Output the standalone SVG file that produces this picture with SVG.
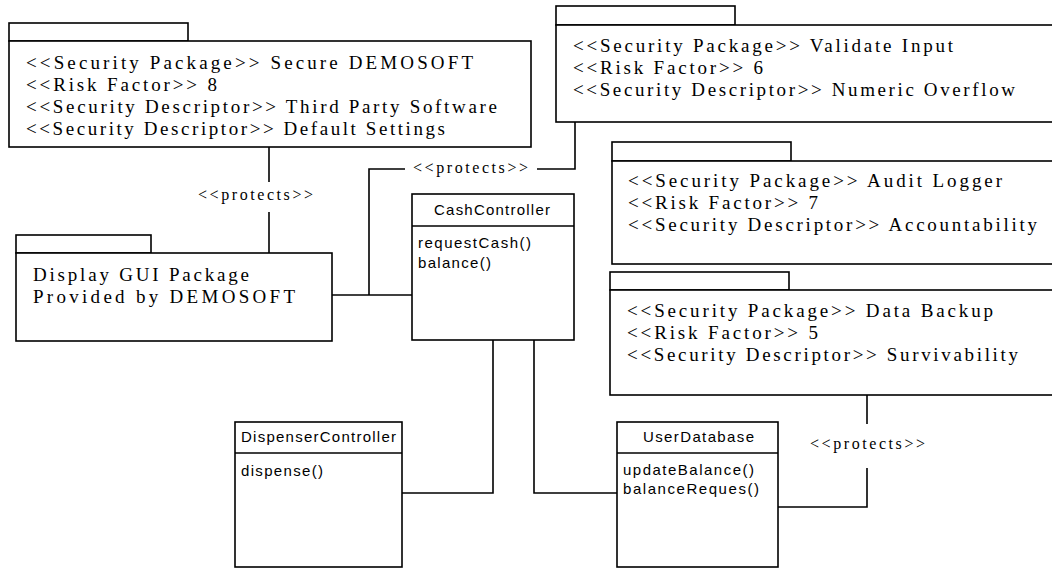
<svg xmlns="http://www.w3.org/2000/svg" width="1052" height="568" viewBox="0 0 1052 568">
<style>
  .box { fill: #fff; stroke: #000; stroke-width: 1.6; }
  .ln { fill: none; stroke: #000; stroke-width: 1.6; }
  .pk { font-family: "Liberation Serif", "Times New Roman", serif; font-size: 19px; fill: #000; }
  .st { font-family: "Liberation Serif", "Times New Roman", serif; font-size: 16px; fill: #000; }
  .cl { font-family: "Liberation Sans", Arial, sans-serif; font-size: 15px; fill: #000; }
</style>
<rect width="1052" height="568" fill="#fff"/>

<g id="connectors">
  <polyline class="ln" points="269,147 269,182"/>
  <polyline class="ln" points="269,212 269,253"/>
  <text class="st" x="198" y="200" textLength="115" lengthAdjust="spacing">&lt;&lt;protects&gt;&gt;</text>
  <polyline class="ln" points="332,295 412,295"/>
  <polyline class="ln" points="369,295 369,169 405,169"/>
  <polyline class="ln" points="537,169 575,169 575,122"/>
  <text class="st" x="413" y="173" textLength="115" lengthAdjust="spacing">&lt;&lt;protects&gt;&gt;</text>
  <polyline class="ln" points="493,340 493,493 402,493"/>
  <polyline class="ln" points="534,340 534,493 617,493"/>
  <polyline class="ln" points="867,395 867,424"/>
  <polyline class="ln" points="867,468 867,507 778,507"/>
  <text class="st" x="810" y="449" textLength="115" lengthAdjust="spacing">&lt;&lt;protects&gt;&gt;</text>
</g>

<g id="pkg-secure-demosoft">
  <rect class="box" x="9" y="23" width="179" height="18"/>
  <rect class="box" x="9" y="41" width="522" height="106"/>
  <text class="pk" x="26" y="69" textLength="447" lengthAdjust="spacing">&lt;&lt;Security Package&gt;&gt; Secure DEMOSOFT</text>
  <text class="pk" x="26" y="91" textLength="191" lengthAdjust="spacing">&lt;&lt;Risk Factor&gt;&gt; 8</text>
  <text class="pk" x="26" y="113" textLength="471" lengthAdjust="spacing">&lt;&lt;Security Descriptor&gt;&gt; Third Party Software</text>
  <text class="pk" x="26" y="135" textLength="419" lengthAdjust="spacing">&lt;&lt;Security Descriptor&gt;&gt; Default Settings</text>
</g>

<g id="pkg-validate-input">
  <rect class="box" x="556" y="6" width="179" height="19"/>
  <rect class="box" x="556" y="25" width="510" height="97"/>
  <text class="pk" x="573" y="52" textLength="380" lengthAdjust="spacing">&lt;&lt;Security Package&gt;&gt; Validate Input</text>
  <text class="pk" x="573" y="74" textLength="190" lengthAdjust="spacing">&lt;&lt;Risk Factor&gt;&gt; 6</text>
  <text class="pk" x="573" y="96" textLength="442" lengthAdjust="spacing">&lt;&lt;Security Descriptor&gt;&gt; Numeric Overflow</text>
</g>

<g id="pkg-audit-logger">
  <rect class="box" x="612" y="142" width="179" height="19"/>
  <rect class="box" x="612" y="161" width="454" height="103"/>
  <text class="pk" x="628" y="187" textLength="374" lengthAdjust="spacing">&lt;&lt;Security Package&gt;&gt; Audit Logger</text>
  <text class="pk" x="628" y="209" textLength="190" lengthAdjust="spacing">&lt;&lt;Risk Factor&gt;&gt; 7</text>
  <text class="pk" x="628" y="231" textLength="409" lengthAdjust="spacing">&lt;&lt;Security Descriptor&gt;&gt; Accountability</text>
</g>

<g id="pkg-data-backup">
  <rect class="box" x="610" y="272" width="179" height="18"/>
  <rect class="box" x="610" y="290" width="456" height="105"/>
  <text class="pk" x="627" y="317" textLength="366" lengthAdjust="spacing">&lt;&lt;Security Package&gt;&gt; Data Backup</text>
  <text class="pk" x="627" y="339" textLength="191" lengthAdjust="spacing">&lt;&lt;Risk Factor&gt;&gt; 5</text>
  <text class="pk" x="627" y="361" textLength="391" lengthAdjust="spacing">&lt;&lt;Security Descriptor&gt;&gt; Survivability</text>
</g>

<g id="pkg-display-gui">
  <rect class="box" x="16" y="235" width="135" height="18"/>
  <rect class="box" x="16" y="253" width="316" height="88"/>
  <text class="pk" x="33" y="281" textLength="216" lengthAdjust="spacing">Display GUI Package</text>
  <text class="pk" x="33" y="303" textLength="262" lengthAdjust="spacing">Provided by DEMOSOFT</text>
</g>

<g id="class-cash-controller">
  <rect class="box" x="412" y="194" width="162" height="146"/>
  <line class="ln" x1="412" y1="226" x2="574" y2="226"/>
  <text class="cl" x="434" y="215" textLength="116" lengthAdjust="spacing">CashController</text>
  <text class="cl" x="418" y="248" textLength="113" lengthAdjust="spacing">requestCash()</text>
  <text class="cl" x="418" y="268" textLength="73" lengthAdjust="spacing">balance()</text>
</g>

<g id="class-dispenser-controller">
  <rect class="box" x="235" y="422" width="167" height="145"/>
  <line class="ln" x1="235" y1="453" x2="402" y2="453"/>
  <text class="cl" x="241" y="442" textLength="155" lengthAdjust="spacing">DispenserController</text>
  <text class="cl" x="241" y="476" textLength="82" lengthAdjust="spacing">dispense()</text>
</g>

<g id="class-user-database">
  <rect class="box" x="617" y="422" width="161" height="145"/>
  <line class="ln" x1="617" y1="453" x2="778" y2="453"/>
  <text class="cl" x="643" y="442" textLength="111" lengthAdjust="spacing">UserDatabase</text>
  <text class="cl" x="623" y="475" textLength="131" lengthAdjust="spacing">updateBalance()</text>
  <text class="cl" x="623" y="494" textLength="136" lengthAdjust="spacing">balanceReques()</text>
</g>
</svg>
